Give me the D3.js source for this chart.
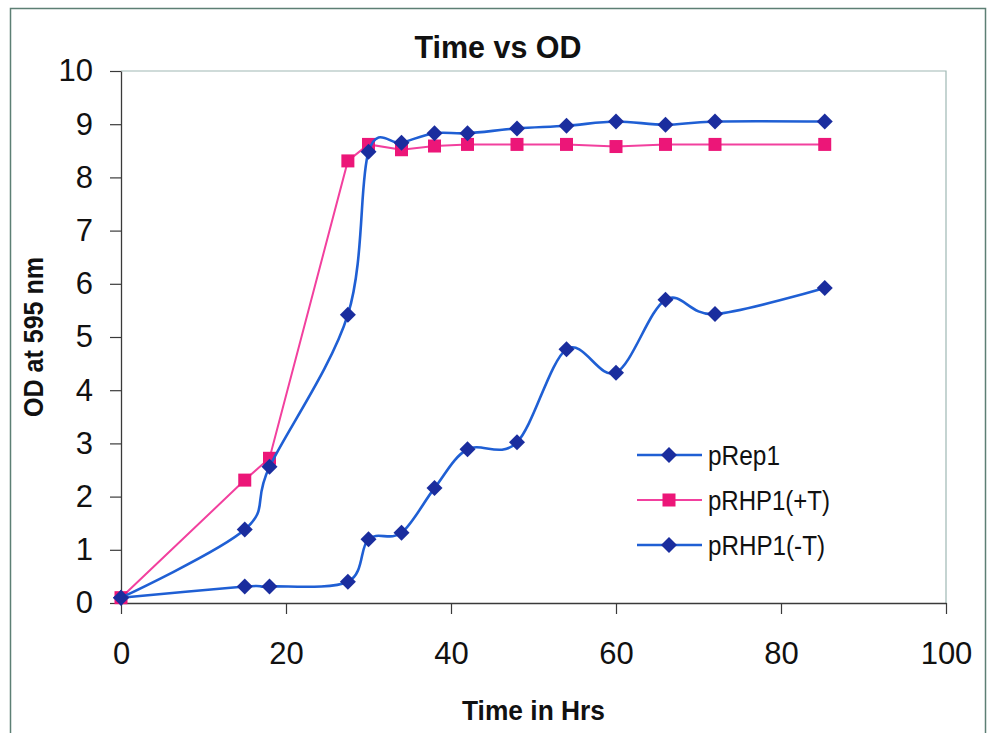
<!DOCTYPE html>
<html>
<head>
<meta charset="utf-8">
<script src="https://cdn.jsdelivr.net/npm/d3@7"></script>
<style>
  body { margin: 0; background: #fff; }
  svg { font-family: "Liberation Sans", Arial, sans-serif; }
</style>
</head>
<body>
<div class="chart"></div>
<script>
// data
var seriesNames = ["pRep1", "pRHP1(+T)", "pRHP1(-T)"];

var hoursRep1 = [0, 15, 18, 27.5, 30, 34, 38, 42, 48, 54, 60, 66, 72, 85.3];
var odRep1 = [0.1, 1.38, 2.56, 5.42, 8.48, 8.65, 8.83, 8.83, 8.92, 8.97, 9.05, 8.99, 9.05, 9.05];

var hoursPlusT = [0, 15, 18, 27.5, 30, 34, 38, 42, 48, 54, 60, 66, 72, 85.3];
var odPlusT = [0.1, 2.31, 2.72, 8.31, 8.62, 8.52, 8.59, 8.62, 8.62, 8.62, 8.58, 8.62, 8.62, 8.62];

var hoursMinusT = [0, 15, 18, 27.5, 30, 34, 38, 42, 48, 54, 60, 66, 72, 85.3];
var odMinusT = [0.1, 0.31, 0.31, 0.4, 1.2, 1.32, 2.16, 2.89, 3.02, 4.77, 4.33, 5.7, 5.43, 5.92];

var xTicks = [0, 20, 40, 60, 80, 100];
var yTicks = [0, 1, 2, 3, 4, 5, 6, 7, 8, 9, 10];

var svgWidth = 989;
var svgHeight = 733;

var plot = { left: 121, top: 71, right: 946, bottom: 603 };

var svg = d3.select(".chart")
  .append("svg")
  .attr("width", svgWidth)
  .attr("height", svgHeight);

// outer chart frame
svg.append("rect")
  .attr("x", 10.5)
  .attr("y", 8.5)
  .attr("width", 975)
  .attr("height", 740)
  .attr("fill", "none")
  .attr("stroke", "#5d7f74")
  .attr("stroke-width", 1.5);

var x = d3.scaleLinear().domain([0, 100]).range([plot.left, plot.right]);
var y = d3.scaleLinear().domain([0, 10]).range([plot.bottom, plot.top]);

// plot area border (top and right)
svg.append("path")
  .attr("d", `M${plot.left},${plot.top}H${plot.right}V${plot.bottom}`)
  .attr("fill", "none")
  .attr("stroke", "#9fb8b4")
  .attr("stroke-width", 1.2);

// axes
var xAxis = svg.append("g")
  .attr("transform", `translate(0, ${plot.bottom})`)
  .call(d3.axisBottom(x).tickValues(xTicks).tickSizeInner(11).tickSizeOuter(0).tickPadding(36));

var yAxis = svg.append("g")
  .attr("transform", `translate(${plot.left}, 0)`)
  .call(d3.axisLeft(y).tickValues(yTicks).tickSizeInner(11).tickSizeOuter(0).tickPadding(17));

[xAxis, yAxis].forEach(function(ax) {
  ax.select(".domain").attr("stroke", "#3a3a3a").attr("stroke-width", 1.3);
  ax.selectAll(".tick line").attr("stroke", "#3a3a3a").attr("stroke-width", 1.2);
  ax.selectAll(".tick text")
    .attr("fill", "#111")
    .style("font-size", "31px")
    .style("font-family", "'Liberation Sans', Arial, sans-serif");
});
xAxis.selectAll(".tick text").attr("dy", "0.45em");

// titles (glyphs in the picture are a bit taller than wide, so squeeze to measured widths)
svg.append("text")
  .attr("x", 498)
  .attr("y", 58)
  .attr("text-anchor", "middle")
  .attr("textLength", 167)
  .attr("lengthAdjust", "spacingAndGlyphs")
  .style("font-size", "31px")
  .style("font-weight", "bold")
  .attr("fill", "#111")
  .text("Time vs OD");

svg.append("text")
  .attr("x", (plot.left + plot.right) / 2)
  .attr("y", 720)
  .attr("text-anchor", "middle")
  .attr("textLength", 143)
  .attr("lengthAdjust", "spacingAndGlyphs")
  .style("font-size", "27px")
  .style("font-weight", "bold")
  .attr("fill", "#111")
  .text("Time in Hrs");

svg.append("text")
  .attr("transform", `translate(43, ${(plot.top + plot.bottom) / 2}) rotate(-90)`)
  .attr("text-anchor", "middle")
  .attr("textLength", 160)
  .attr("lengthAdjust", "spacingAndGlyphs")
  .style("font-size", "27px")
  .style("font-weight", "bold")
  .attr("fill", "#111")
  .text("OD at 595 nm");

// series
var series = [
  { name: seriesNames[0], xs: hoursRep1, ys: odRep1, line: "#1f5fd4", mark: "#1a2d9e", shape: "diamond", width: 2.6, curve: d3.curveCardinal.tension(0), legendWidth: 72 },
  { name: seriesNames[1], xs: hoursPlusT, ys: odPlusT, line: "#f2409e", mark: "#ec1678", shape: "square", width: 2, curve: d3.curveLinear, legendWidth: 122 },
  { name: seriesNames[2], xs: hoursMinusT, ys: odMinusT, line: "#1f5fd4", mark: "#1a2d9e", shape: "diamond", width: 2.6, curve: d3.curveCardinal.tension(0), legendWidth: 117 }
];

function drawMarker(g, shape, color) {
  if (shape === "diamond") {
    g.append("path").attr("d", "M0,-8L8,0L0,8L-8,0Z").attr("fill", color);
  } else {
    g.append("rect").attr("x", -6.5).attr("y", -6.5).attr("width", 13).attr("height", 13).attr("fill", color);
  }
}

// draw in reverse order so pRep1 sits on top
series.slice().reverse().forEach(function(s) {
  var pts = s.xs.map((v, i) => [v, s.ys[i]]);
  var line = d3.line()
    .x(d => x(d[0]))
    .y(d => y(d[1]))
    .curve(s.curve);
  svg.append("path")
    .attr("d", line(pts))
    .attr("fill", "none")
    .attr("stroke", s.line)
    .attr("stroke-width", s.width);
  pts.forEach(function(p) {
    var g = svg.append("g").attr("transform", `translate(${x(p[0])}, ${y(p[1])})`);
    drawMarker(g, s.shape, s.mark);
  });
});

// legend
var legend = svg.append("g");
series.forEach(function(s, i) {
  var ly = 455 + i * 45;
  legend.append("line")
    .attr("x1", 637).attr("x2", 702)
    .attr("y1", ly).attr("y2", ly)
    .attr("stroke", s.line)
    .attr("stroke-width", s.width);
  var g = legend.append("g").attr("transform", `translate(669, ${ly})`);
  drawMarker(g, s.shape, s.mark);
  legend.append("text")
    .attr("x", 708)
    .attr("y", ly + 10)
    .attr("textLength", s.legendWidth)
    .attr("lengthAdjust", "spacingAndGlyphs")
    .style("font-size", "27px")
    .attr("fill", "#111")
    .text(s.name);
});
</script>
</body>
</html>
